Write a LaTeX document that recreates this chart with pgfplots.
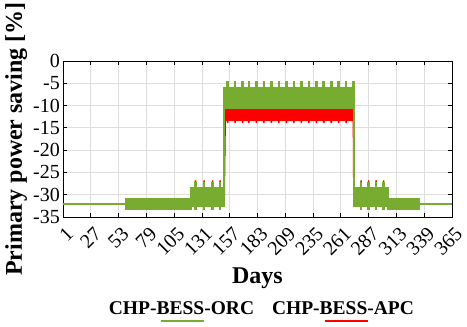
\documentclass[border=0pt]{standalone}
\usepackage{fontspec}
\setmainfont{Liberation Serif}
\usepackage{pgfplots}
\pgfplotsset{compat=1.18}

\definecolor{orcgreen}{RGB}{119,172,48}
\definecolor{apcred}{RGB}{255,0,0}
\definecolor{gridgray}{RGB}{222,222,222}

\begin{document}
\begin{tikzpicture}
\path[use as bounding box] (-63pt,-110pt) rectangle (404pt,217pt);
\begin{axis}[
  scale only axis,
  width=389pt, height=156pt,
  xmin=1, xmax=365, ymin=-35, ymax=0,
  xtick={1,27,...,365},
  ytick={-35,-30,...,0},
  yticklabels={-35,-30,-25,-20,-15,-10,-5,0},
  /pgf/number format/assume math mode=true,
  grid=major,
  grid style={gridgray, line width=0.8pt},
  tick align=inside, tick pos=both,
  major tick length=4pt,
  every tick/.style={black, line width=0.8pt},
  axis line style={black, line width=0.9pt},
  ticklabel style={font=\fontsize{20}{20}\selectfont},
  xticklabel style={inner sep=0pt, xshift=7pt, yshift=-14pt, rotate=45, anchor=east},
  yticklabel style={inner sep=0pt, xshift=-3pt, anchor=east},
  xlabel={Days},
  ylabel={Primary power saving [\%]},
  label style={font=\bfseries\fontsize{24}{24}\selectfont},
  xlabel style={at={(axis description cs:0.5,0)}, anchor=base, yshift=-66pt},
  ylabel style={at={(axis description cs:0,0.5)}, anchor=base, yshift=41pt},
]
% CHP-BESS-APC (drawn first, green lies over it)
\addplot[apcred, fill=apcred, line width=1pt, line join=miter] coordinates {
  (1,-32) (60,-32) (60,-31) (121,-31) (121,-28.6)
  (124.75,-28.6) (124.75,-26.9) (125.25,-26.9) (125.25,-28.6)
  (132.75,-28.6) (132.75,-26.9) (133.25,-26.9) (133.25,-28.6)
  (140.75,-28.6) (140.75,-26.9) (141.25,-26.9) (141.25,-28.6)
  (147.75,-28.6) (147.75,-26.9) (148.25,-26.9) (148.25,-28.6)
  (152,-28.6) (153,-10.6) (272.5,-10.6) (273,-28.6)
  (279.75,-28.6) (279.75,-26.9) (280.25,-26.9) (280.25,-28.6)
  (286.75,-28.6) (286.75,-26.9) (287.25,-26.9) (287.25,-28.6)
  (293.75,-28.6) (293.75,-26.9) (294.25,-26.9) (294.25,-28.6)
  (300.75,-28.6) (300.75,-26.9) (301.25,-26.9) (301.25,-28.6)
  (305,-28.6) (305,-31) (334,-31) (334,-32) (365,-32)
  (334,-32) (334,-33.3) (305,-33.3) (305,-32.6)
  (273,-32.6) (272.5,-13.4)
  (266.25,-13.4) (266.25,-13.8) (265.75,-13.8) (265.75,-13.4)
  (259.25,-13.4) (259.25,-13.8) (258.75,-13.8) (258.75,-13.4)
  (252.25,-13.4) (252.25,-13.8) (251.75,-13.8) (251.75,-13.4)
  (245.25,-13.4) (245.25,-13.8) (244.75,-13.8) (244.75,-13.4)
  (238.25,-13.4) (238.25,-13.8) (237.75,-13.8) (237.75,-13.4)
  (231.25,-13.4) (231.25,-13.8) (230.75,-13.8) (230.75,-13.4)
  (224.25,-13.4) (224.25,-13.8) (223.75,-13.8) (223.75,-13.4)
  (217.25,-13.4) (217.25,-13.8) (216.75,-13.8) (216.75,-13.4)
  (210.25,-13.4) (210.25,-13.8) (209.75,-13.8) (209.75,-13.4)
  (203.25,-13.4) (203.25,-13.8) (202.75,-13.8) (202.75,-13.4)
  (196.25,-13.4) (196.25,-13.8) (195.75,-13.8) (195.75,-13.4)
  (189.25,-13.4) (189.25,-13.8) (188.75,-13.8) (188.75,-13.4)
  (182.25,-13.4) (182.25,-13.8) (181.75,-13.8) (181.75,-13.4)
  (175.25,-13.4) (175.25,-13.8) (174.75,-13.8) (174.75,-13.4)
  (169.25,-13.4) (169.25,-13.8) (168.75,-13.8) (168.75,-13.4)
  (162.25,-13.4) (162.25,-13.8) (161.75,-13.8) (161.75,-13.4)
  (155.25,-13.4) (155.25,-13.8) (154.75,-13.8) (154.75,-13.4)
  (153,-13.4) (152,-32.6)
  (121,-32.6) (121,-33.3) (60,-33.3) (60,-32)
} -- cycle;
% CHP-BESS-ORC
\addplot[orcgreen, fill=orcgreen, line width=2pt, line join=miter] coordinates {
  (1,-32) (60,-32) (60,-31) (121,-31) (121,-28.6)
  (124.75,-28.6) (124.75,-27.4) (125.25,-27.4) (125.25,-28.6)
  (132.75,-28.6) (132.75,-27.4) (133.25,-27.4) (133.25,-28.6)
  (140.75,-28.6) (140.75,-27.4) (141.25,-27.4) (141.25,-28.6)
  (147.75,-28.6) (147.75,-27.4) (148.25,-27.4) (148.25,-28.6)
  (152,-28.6) (152,-6.1)
  (154.75,-6.1) (154.75,-4.8) (155.25,-4.8) (155.25,-6.1)
  (161.75,-6.1) (161.75,-4.8) (162.25,-4.8) (162.25,-6.1)
  (168.75,-6.1) (168.75,-4.8) (169.25,-4.8) (169.25,-6.1)
  (174.75,-6.1) (174.75,-4.8) (175.25,-4.8) (175.25,-6.1)
  (181.75,-6.1) (181.75,-4.8) (182.25,-4.8) (182.25,-6.1)
  (188.75,-6.1) (188.75,-4.8) (189.25,-4.8) (189.25,-6.1)
  (195.75,-6.1) (195.75,-4.8) (196.25,-4.8) (196.25,-6.1)
  (202.75,-6.1) (202.75,-4.8) (203.25,-4.8) (203.25,-6.1)
  (209.75,-6.1) (209.75,-4.8) (210.25,-4.8) (210.25,-6.1)
  (216.75,-6.1) (216.75,-4.8) (217.25,-4.8) (217.25,-6.1)
  (223.75,-6.1) (223.75,-4.8) (224.25,-4.8) (224.25,-6.1)
  (230.75,-6.1) (230.75,-4.8) (231.25,-4.8) (231.25,-6.1)
  (237.75,-6.1) (237.75,-4.8) (238.25,-4.8) (238.25,-6.1)
  (244.75,-6.1) (244.75,-4.8) (245.25,-4.8) (245.25,-6.1)
  (251.75,-6.1) (251.75,-4.8) (252.25,-4.8) (252.25,-6.1)
  (258.75,-6.1) (258.75,-4.8) (259.25,-4.8) (259.25,-6.1)
  (265.75,-6.1) (265.75,-4.8) (266.25,-4.8) (266.25,-6.1)
  (272.5,-6.1) (272.5,-4.8) (273,-4.8) (273,-28.6)
  (279.75,-28.6) (279.75,-27.4) (280.25,-27.4) (280.25,-28.6)
  (286.75,-28.6) (286.75,-27.4) (287.25,-27.4) (287.25,-28.6)
  (293.75,-28.6) (293.75,-27.4) (294.25,-27.4) (294.25,-28.6)
  (300.75,-28.6) (300.75,-27.4) (301.25,-27.4) (301.25,-28.6)
  (305,-28.6) (305,-31) (334,-31) (334,-32) (365,-32)
  (334,-32) (334,-33.3) (305,-33.3) (305,-32.6)
  (301.25,-32.6) (301.25,-33.3) (300.75,-33.3) (300.75,-32.6)
  (294.25,-32.6) (294.25,-33.3) (293.75,-33.3) (293.75,-32.6)
  (287.25,-32.6) (287.25,-33.3) (286.75,-33.3) (286.75,-32.6)
  (280.25,-32.6) (280.25,-33.3) (279.75,-33.3) (279.75,-32.6)
  (273,-32.6) (273,-10.6) (152,-10.6) (152,-32.6)
  (148.25,-32.6) (148.25,-33.3) (147.75,-33.3) (147.75,-32.6)
  (141.25,-32.6) (141.25,-33.3) (140.75,-33.3) (140.75,-32.6)
  (133.25,-32.6) (133.25,-33.3) (132.75,-33.3) (132.75,-32.6)
  (125.25,-32.6) (125.25,-33.3) (124.75,-33.3) (124.75,-32.6)
  (121,-32.6) (121,-33.3) (60,-33.3) (60,-32)
} -- cycle;
\end{axis}
% legend below the axis, line under each name
\node[anchor=base, font=\bfseries\fontsize{19.5}{19.5}\selectfont] at (118.5pt,-98pt) {CHP-BESS-ORC};
\draw[orcgreen, line width=2pt] (98pt,-104.3pt) -- (141pt,-104.3pt);
\node[anchor=base, font=\bfseries\fontsize{19.5}{19.5}\selectfont] at (280pt,-98pt) {CHP-BESS-APC};
\draw[apcred, line width=2pt] (262pt,-104.3pt) -- (305pt,-104.3pt);
\end{tikzpicture}
\end{document}
